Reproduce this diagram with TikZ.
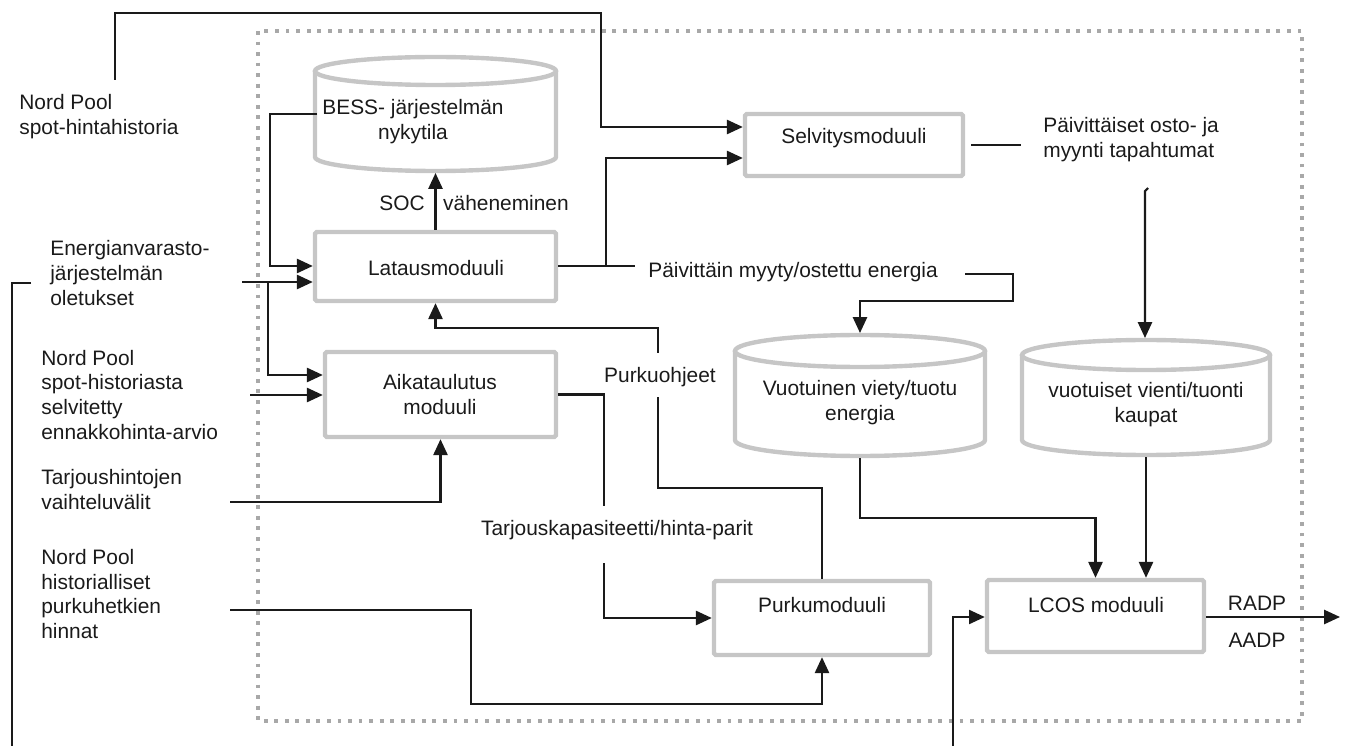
\documentclass[tikz,border=0pt]{standalone}
\usepackage{fontspec}
\setmainfont{Liberation Sans}
\usetikzlibrary{arrows.meta,calc}
\definecolor{boxgray}{HTML}{C6C6C6}
\definecolor{dotgray}{HTML}{A8A8A8}
\definecolor{ink}{HTML}{1A1A1A}
\tikzset{
  every node/.style={font=\fontsize{11.9pt}{14.2pt}\selectfont, text=ink},
  modbox/.style={draw=boxgray, line width=2.5pt, rounded corners=1pt, rectangle, inner sep=0pt},
  cylstyle/.style={draw=boxgray, line width=2.5pt},
  conn/.style={draw=ink, line width=1.2pt},
  arr/.style={conn, -{Triangle[length=9pt,width=8pt]}},
  lbl/.style={align=left, anchor=west, inner sep=0pt},
  ctr/.style={align=center, inner sep=0pt},
}
\newcommand\drawcyl[5]{%
  \draw[cylstyle] ({(#1+#2)/2},{-(#3)-(#5)}) ellipse [x radius={(#2-#1)/2}, y radius=#5];
  \draw[cylstyle] (#1,{-(#3)-(#5)}) -- (#1,{-(#4)+(#5)}) arc[start angle=180,end angle=360,x radius={(#2-#1)/2},y radius=#5] -- (#2,{-(#3)-(#5)});
}
\begin{document}
\begin{tikzpicture}[x=0.02cm,y=0.02cm]
\useasboundingbox (0,0) rectangle (1349,-746);
% dotted frame
\draw[dotgray, line width=2pt, dash pattern=on 2.2pt off 3.8pt] (258,-31) rectangle (1302,-721);

% cylinders
\drawcyl{315}{556}{57}{171}{14}
\drawcyl{735}{985}{335}{456}{16}
\drawcyl{1022}{1270}{340}{455}{15}
\coordinate (bessB) at (435.5,-173);
\coordinate (c2T) at (860,-333);
\coordinate (c2B) at (860,-458);
\coordinate (c3T) at (1146,-338);
\coordinate (c3B) at (1146,-457);
\node[ctr] (bess) at (413,-122) {BESS- järjestelmän\\nykytila};
\node[ctr] (c2txt) at (860,-403) {Vuotuinen viety/tuotu\\energia};
\node[ctr] (c3txt) at (1146,-405) {vuotuiset vienti/tuonti\\kaupat};

% module boxes
\node[modbox, minimum width=241*0.02cm, minimum height=69*0.02cm] (lat) at (435.5,-266.5) {};
\node[ctr] at (436,-268) {Latausmoduuli};
\node[modbox, minimum width=231*0.02cm, minimum height=85*0.02cm] (aik) at (440.5,-394.5) {};
\node[ctr] at (440,-395) {Aikataulutus\\moduuli};
\node[modbox, minimum width=216*0.02cm, minimum height=74*0.02cm] (purku) at (822,-618) {};
\node[ctr] at (822,-605) {Purkumoduuli};
\node[modbox, minimum width=218*0.02cm, minimum height=62*0.02cm] (selv) at (854,-145) {};
\node[ctr] at (854,-138) {Selvitysmoduuli};
\node[modbox, minimum width=217*0.02cm, minimum height=72*0.02cm] (lcos) at (1095.5,-616) {};
\node[ctr] at (1096,-605) {LCOS moduuli};

% left labels
\node[lbl] (np1) at (19,-116.5) {Nord Pool\\spot-hintahistoria};
\node[lbl] (ener) at (50,-273) {Energianvarasto-\\järjestelmän\\oletukset};
\node[lbl] (np2) at (41,-395) {Nord Pool\\spot-historiasta\\selvitetty\\ennakkohinta-arvio};
\node[lbl] (tarj) at (41,-490) {Tarjoushintojen\\vaihteluvälit};
\node[lbl] (np3) at (41,-594) {Nord Pool\\historialliset\\purkuhetkien\\hinnat};
\node[lbl] (paiv) at (1043,-140) {Päivittäiset osto- ja\\myynti tapahtumat};

% inline labels
\node[ctr] (soc) at (402,-203) {SOC};
\node[ctr] (vah) at (506,-203) {väheneminen};
\node[ctr] (pohj) at (660,-377) {Purkuohjeet};
\node[ctr] (tkap) at (617,-530) {Tarjouskapasiteetti/hinta-parit};
\node[ctr] (myyty) at (793,-272) {Päivittäin myyty/ostettu energia};
\node[ctr] (radp) at (1257,-603) {RADP};
\node[ctr] (aadp) at (1257,-640) {AADP};

% connector end points
\coordinate (np1a) at (115,-80);
\coordinate (enerR) at (242,-282);
\coordinate (enerL) at (31,-283);
\coordinate (np2a) at (250,-395);
\coordinate (tarja) at (230,-502);
\coordinate (np3a) at (230,-610);
\coordinate (bessL) at (317,-114);
\coordinate (myyR) at (965,-274);
\coordinate (myyL) at (635,-266);
\coordinate (paivB) at (1148,-188);
\coordinate (outE) at (1340,-617);
\coordinate (botL) at (12,-746);
\coordinate (botR) at (953,-746);

% connectors
\draw[arr] (np1a) |- (601,-13) -- (601,-127) -- (selv.west |- 0,-127);
\draw[conn] (lat.east |- 0,-266) -- (myyL);
\draw[arr] (606,-266) |- (selv.west |- 0,-158);
\draw[conn] (971,-145) -- (1021,-145);
\draw[arr] (paivB) -- (1145,-191) -- (1145,-338);
\draw[arr] (myyR) -| (1013,-301) -| (c2T);
\draw[arr] (bessL) -| (270,-266) -- (lat.west |- 0,-266);
\draw[arr] (enerR) -- (lat.west |- 0,-282);
\draw[arr] (268,-282) |- (aik.west |- 0,-375);
\draw[arr] (np2a) -- (aik.west |- 0,-395);
\draw[arr] (tarja) -| (aik.south);
\draw[arr] (np3a) -| (471,-704) -| (purku.south);
\draw[conn] (aik.east) -| (604,-506);
\draw[arr] (604,-563) |- (purku.west);
\draw[conn] (purku.north) |- (658,-488) -- (658,-397);
\draw[arr] (658,-353) |- (lat.south |- 0,-328) -- (lat.south);
\draw[arr] (lat.north) -- (bessB);
\draw[arr] (c2B) |- (lcos.north |- 0,-518) -- (lcos.north);
\draw[arr] (c3B) -- (c3B |- lcos.north);
\draw[arr] (lcos.east |- 0,-617) -- (outE);
\draw[conn] (enerL) -| (botL);
\draw[arr] (botR) |- (lcos.west |- 0,-617);
\end{tikzpicture}
\end{document}
